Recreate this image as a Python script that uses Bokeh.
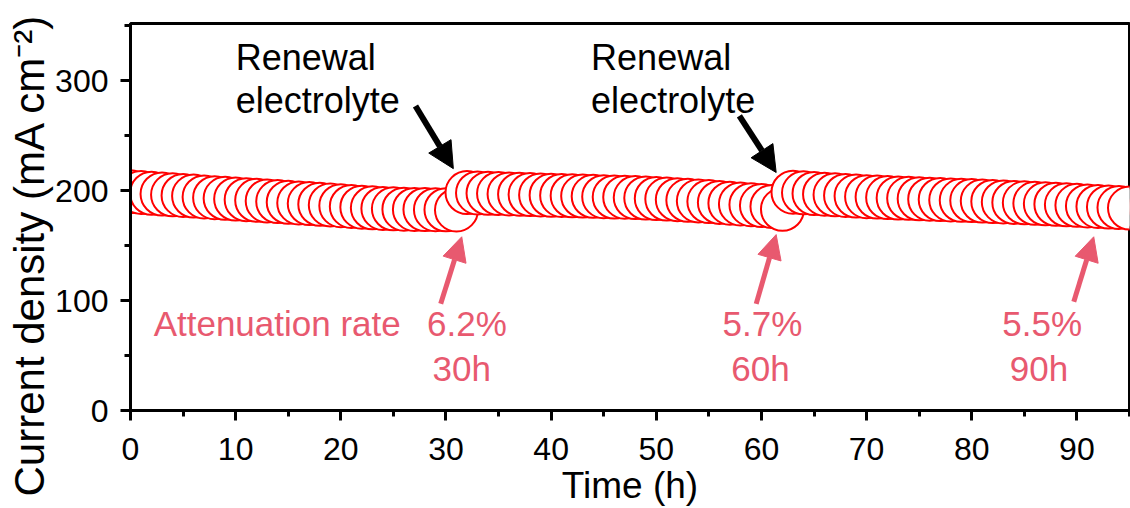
from bokeh.plotting import figure
from bokeh.models import Range1d, SingleIntervalTicker, Arrow, NormalHead, ColumnDataSource, Title
from bokeh.core.properties import value
from bokeh.embed import file_html
from bokeh.resources import INLINE

# ---- data ----
time_seg1 = list(range(0, 32))
current_seg1 = [199.0, 198.3, 197.6, 196.9, 196.2, 195.6, 195.0, 194.3, 193.6, 193.0,
                192.4, 191.8, 191.2, 190.6, 190.0, 189.4, 188.8, 188.2, 187.6, 187.0,
                186.3, 185.6, 184.9, 184.3, 183.8, 183.4, 183.1, 182.9, 182.8, 182.7,
                182.6, 182.4]
time_seg2 = list(range(32, 63))
current_seg2 = [198.2, 197.9, 197.6, 197.3, 197.0, 196.7, 196.4, 196.1, 195.8, 195.6,
                195.3, 195.0, 194.8, 194.5, 194.2, 194.0, 193.7, 193.3, 192.8, 192.3,
                191.8, 191.2, 190.6, 190.0, 189.3, 188.6, 187.9, 187.2, 186.4, 185.6,
                183.0]
time_seg3 = list(range(63, 96))
current_seg3 = [198.6, 198.0, 197.4, 196.8, 196.2, 195.6, 195.0, 194.5, 194.1, 193.7,
                193.3, 193.0, 192.6, 192.2, 191.9, 191.5, 191.2, 190.9, 190.5, 190.1,
                189.7, 189.3, 188.9, 188.4, 188.0, 187.6, 187.1, 186.6, 186.1, 185.6,
                185.1, 184.6, 184.1]

renewal_x = [10.0, 43.8]
renewal_label = ["Renewal", "Renewal"]
electrolyte_label = ["electrolyte", "electrolyte"]
renewal_arrow_start = [(27.1, 277.0), (57.9, 268.0)]
renewal_arrow_end = [(30.7, 220.0), (61.4, 216.5)]

rate_x = [32.0, 60.1, 86.7]
rate_label = ["6.2%", "5.7%", "5.5%"]
hour_x = [31.5, 59.9, 86.4]
hour_label = ["30h", "60h", "90h"]
rate_arrow_start = [(29.5, 97.0), (59.5, 97.0), (89.7, 99.0)]
rate_arrow_end = [(31.5, 158.0), (61.4, 160.0), (91.6, 158.0)]

x_ticks_interval = 10
y_ticks_interval = 100

FONT = "Liberation Sans"
PINK = "#E8596F"

p = figure(width=1130, height=508, output_backend="svg", toolbar_location=None,
           x_range=Range1d(0, 95), y_range=Range1d(0, 352),
           min_border_left=130, min_border_right=1, min_border_top=23, min_border_bottom=98)

p.xgrid.visible = False
p.ygrid.visible = False
p.outline_line_color = "black"
p.outline_line_width = 3
p.outline_line_alpha = 1.0

times = time_seg1 + time_seg2 + time_seg3
currents = current_seg1 + current_seg2 + current_seg3
src = ColumnDataSource(dict(t=times, j=currents))
p.scatter("t", "j", source=src, marker="circle", size=43, fill_color="white",
          line_color="#FF0000", line_width=2)

for ax, interval in ((p.xaxis[0], x_ticks_interval), (p.yaxis[0], y_ticks_interval)):
    ax.ticker = SingleIntervalTicker(interval=interval, num_minor_ticks=2)
    ax.axis_line_width = 3
    ax.major_tick_line_width = 3
    ax.minor_tick_line_width = 3
    ax.major_tick_out = 10
    ax.major_tick_in = 0
    ax.minor_tick_out = 6
    ax.minor_tick_in = 0
    ax.major_label_text_font = FONT
    ax.major_label_text_font_size = "32px"
    ax.major_label_text_color = "black"
    ax.axis_label_text_font = FONT
    ax.axis_label_text_font_style = "normal"
    ax.axis_label_text_color = "black"

p.xaxis.axis_label = "Time (h)"
p.xaxis.axis_label_text_font_size = "37px"
p.xaxis.major_label_standoff = 17
p.xaxis.axis_label_standoff = 2
p.yaxis.major_label_standoff = 12

# y axis title as a left-side title, starting below the frame bottom like the reference
p.add_layout(Title(text="Current density (mA cm\u207b\u00b2)", align="left", offset=-86,
                   standoff=0, text_font=FONT, text_font_size="42px",
                   text_font_style="normal", text_color="black"), "left")

# black annotations
p.text(x=renewal_x, y=[321, 321], text=renewal_label, text_font=value(FONT),
       text_font_size="36px", text_color="black", text_baseline="alphabetic")
p.text(x=renewal_x, y=[282, 282], text=electrolyte_label, text_font=value(FONT),
       text_font_size="36px", text_color="black", text_baseline="alphabetic")
for (x0, y0), (x1, y1) in zip(renewal_arrow_start, renewal_arrow_end):
    p.add_layout(Arrow(x_start=x0, y_start=y0, x_end=x1, y_end=y1, line_width=6,
                       line_color="black",
                       end=NormalHead(size=26, fill_color="black", line_color="black")))

# pink annotations
p.text(x=[2.2], y=[79], text=["Attenuation rate"], text_font=value(FONT),
       text_font_size="35px", text_color=PINK, text_baseline="alphabetic")
p.text(x=rate_x, y=[79] * 3, text=rate_label, text_font=value(FONT),
       text_font_size="35px", text_color=PINK, text_baseline="alphabetic", text_align="center")
p.text(x=hour_x, y=[38] * 3, text=hour_label, text_font=value(FONT),
       text_font_size="35px", text_color=PINK, text_baseline="alphabetic", text_align="center")
for (x0, y0), (x1, y1) in zip(rate_arrow_start, rate_arrow_end):
    p.add_layout(Arrow(x_start=x0, y_start=y0, x_end=x1, y_end=y1, line_width=5,
                       line_color=PINK,
                       end=NormalHead(size=24, fill_color=PINK, line_color=PINK)))

open("out.html", "w").write(file_html(p, INLINE))
